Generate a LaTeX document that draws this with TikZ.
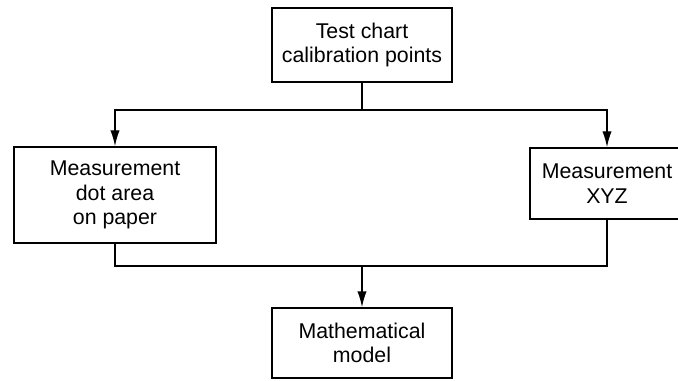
\documentclass[tikz,border=0pt]{standalone}
\usepackage{fontspec}
\setmainfont{Liberation Sans}
\usepackage{tikz}
\usetikzlibrary{arrows.meta,positioning}
\tikzset{stage/.style={rectangle,draw=black,line width=1.1pt,align=center,inner sep=0pt,font=\fontsize{16}{18.5}\selectfont}}
\tikzset{flow/.style={line width=1.1pt,-{Latex[length=12pt,width=7pt]}}}
\tikzset{wire/.style={line width=1.1pt}}

\begin{document}
\begin{tikzpicture}[x=0.75pt,y=-0.75pt]
  \useasboundingbox (0,0) rectangle (678,381);
  \node[stage,minimum width=180*0.75pt,minimum height=74*0.75pt] (chart) at (362,45) {Test chart\\calibration points};
  \node[stage,minimum width=202*0.75pt,minimum height=96*0.75pt] (dotarea) at (115,195) {Measurement\\dot area\\on paper};
  \node[stage,minimum width=154*0.75pt,minimum height=71*0.75pt] (xyz) at (607,183.5) {Measurement\\XYZ};
  \node[stage,minimum width=180*0.75pt,minimum height=70*0.75pt] (model) at (362,343) {Mathematical\\model};
  \coordinate (split) at (362,110);
  \coordinate (merge) at (362,266);
  \draw[wire] (chart.south) -- (split);
  \draw[flow] (split) -| (dotarea.north);
  \draw[flow] (split) -| (xyz.north);
  \draw[wire] (dotarea.south) |- (merge);
  \draw[wire] (xyz.south) |- (merge);
  \draw[flow] (merge) -- (model.north);
\end{tikzpicture}
\end{document}
